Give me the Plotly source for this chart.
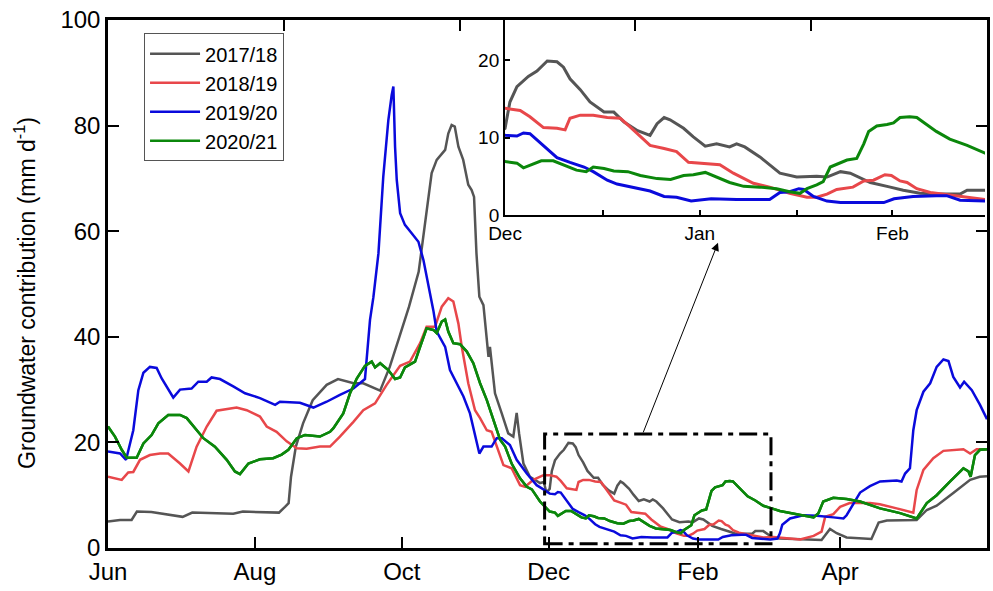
import plotly.graph_objects as go

FONT = "Liberation Sans, Arial, sans-serif"

series_names = ["2017/18", "2018/19", "2019/20", "2020/21"]
series_colors = ["#555555", "#E8474A", "#0A0ADC", "#0B870B"]

# x = days since 1 June
days_1718 = [0, 3, 5, 9.8, 12, 18, 24, 31, 35, 45, 52, 56, 65, 71, 73.5, 75, 76, 78, 81, 85,
             90.8, 95.5, 102, 106, 113, 117, 121, 125, 129, 132.3, 134.4, 136.5, 140, 141.3, 142.7, 144, 145.5, 147.5, 149.6, 151,
             152, 153, 154.2, 155.9, 157.3, 158, 158.6, 159.3, 160.7, 163.5, 166.2, 168.3, 169.7, 170.7, 172.5, 175.2, 179.4, 181, 182,
             183.4, 184.3, 185.6, 187.7, 189.3, 191.2, 193.0, 194.2, 195.4, 197.3, 199.1, 201.7, 203.5, 205.4, 207.9, 210.2, 211.5, 212.8, 213.9, 216.4,
             218.2, 220.4, 222.5, 224.9, 226.2, 227.7, 230.5, 234.2, 237.3, 241.0, 242.9, 245.4, 247.2, 250.9, 254.6, 257.0, 260.1, 263.2, 267.5, 268.8, 272.1,
             275.6, 279, 296.3, 299.8, 302.6, 306.7, 317, 320, 323.4, 335.8, 340, 344.1, 351, 358, 362, 365]
gw_1718 = [5.0, 5.2, 5.3, 5.3, 6.9, 6.8, 6.4, 5.9, 6.7, 6.6, 6.5, 6.9, 6.8, 6.7, 7.8, 8.5, 13.5, 19.2, 23.6, 28.0,
           30.9, 32.0, 31.2, 31.2, 29.8, 34.3, 40.0, 45.7, 52.3, 63.4, 71.0, 73.5, 75.4, 78.5, 80.1, 79.8, 76.0, 73.5, 68.8, 67.8,
           66.5, 55.8, 47.6, 46.0, 38.8, 36.2, 38.1, 35.3, 29.3, 25.5, 21.7, 21.1, 25.6, 21.7, 16.0, 13.5, 12.3, 12.5, 10.5,
           11.2, 14.6, 16.6, 17.9, 18.6, 19.9, 19.8, 19.1, 17.6, 16.2, 14.6, 13.3, 13.3, 12.0, 10.9, 10.3, 11.8, 12.6, 12.3, 11.2,
           10.1, 8.9, 9.2, 8.8, 9.2, 8.8, 7.5, 5.4, 4.9, 5.0, 4.9, 5.6, 5.4, 4.2, 3.6, 3.2, 2.8, 2.7, 2.7, 3.2, 3.2,
           2.1, 1.8, 1.5, 3.6, 2.8, 2.0, 1.7, 4.8, 5.2, 5.3, 7.2, 8.0, 10.4, 12.9, 13.5, 13.6]

days_1819 = [0, 5.7, 8.4, 10.5, 13.3, 17.4, 21.6, 25, 29.9, 33.4, 36.8, 41, 45.1, 49.3, 53.4, 57.6, 63.1, 65.9, 70, 74.2,
             78.4, 82.5, 88, 92.2, 96.3, 101.9, 106, 110.9, 115.7, 121.3, 125.4, 129.6, 132.3, 135.8, 138.6, 141.3, 143.4, 145.5, 146.9, 149.6,
             152.4, 154.5, 157.3, 159.3, 161.4, 164.2, 167.6, 171.1, 173.2, 176.6, 180.8,
             183.4, 186.2, 188.0, 190.5, 193.0, 194.5, 195.4, 197.3, 199.7, 202.3, 204.7, 206.5, 208.4, 210.2, 212.8, 215.1, 217.3, 220.1, 223.1, 225.6,
             229.3, 232.3, 236.0, 239.2, 241.0, 242.9, 244.7, 247.7, 249.7, 251.5, 253.6, 254.8, 256.4, 257.7, 259.5, 262.0, 265.7, 269.4, 272.1,
             276.3, 279, 287.4, 293, 296.3, 297.8, 301.2, 304, 308, 316.4, 320.5, 327.5, 334.4, 335.8, 338.6, 342.7, 346.9, 355.2, 358, 360.7, 365]
gw_1819 = [13.5, 12.9, 14.3, 14.4, 16.7, 17.6, 17.9, 17.9, 16.0, 14.5, 19.2, 23.0, 26.0, 26.3, 26.6, 26.1, 24.9, 23.0, 22.0, 20.2,
           18.9, 18.8, 19.2, 19.2, 21.1, 23.9, 26.1, 27.4, 30.9, 34.5, 35.3, 38.8, 41.9, 41.9, 45.7, 47.3, 46.7, 42.5, 38.1, 31.2,
           26.1, 24.6, 22.3, 22.0, 19.2, 15.7, 15.1, 11.9, 11.6, 12.9, 13.8,
           13.8, 13.5, 12.7, 11.3, 11.2, 11.0, 12.5, 12.9, 12.9, 12.6, 12.5, 11.4, 10.1, 9.0, 8.6, 8.2, 6.8, 6.7, 6.5, 5.4,
           4.1, 3.6, 2.8, 2.3, 2.3, 2.7, 3.3, 3.6, 4.4, 4.5, 5.2, 5.1, 4.4, 4.2, 3.4, 2.9, 2.6, 2.3, 2.0,
           2.1, 2.0, 1.6, 2.3, 3.1, 5.9, 6.4, 7.8, 8.5, 8.5, 8.3, 7.5, 6.7, 11.0, 14.8, 17.0, 18.4, 18.7, 17.9, 18.7, 18.7]

days_1920 = [0, 5, 7.5, 9.1, 10.5, 12.6, 14.7, 17.4, 20.2, 22.3, 25, 27.1, 29.9, 34.7, 37.5, 41, 43, 46.5, 52, 56.9,
             63.1, 69.4, 71.4, 79.7, 85.3, 90.8, 96.3, 101.9, 106.7, 107.4, 108.8, 110.2, 112.3, 114.3, 116.4, 117.8, 118.5, 119.2, 119.9, 121.3,
             123.3, 126.1, 128.9, 131, 133, 135.1, 136.5, 140, 142, 144.8, 147.6, 150.3, 152.4, 154.2, 155.9, 159.3, 161.4, 163.5, 166.9, 169.7,
             173.9, 178, 182.2,
             183.4, 185.6, 186.8, 188.0, 189.9, 191.2, 193.0, 195.4, 198.0, 199.7, 202.3, 204.1, 207.1, 210.2, 212.8, 215.1, 217.8, 221.5, 226.2, 232.3,
             234.2, 236.0, 237.7, 238.6, 240.4, 242.9, 245.4, 253.4, 255.3, 258.8, 263.1, 265.0, 267.5, 272.1,
             275, 278, 279, 280, 283.2, 288.7, 294.3, 301.2, 305.4, 306.7, 310.2, 312.3, 316.4, 320.6, 327.5, 329.5, 331, 333, 334.4, 335.8,
             338.6, 341.4, 344.1, 346.9, 349, 351, 353.8, 355.5, 358.7, 362.1, 365]
gw_1920 = [18.3, 17.9, 16.7, 19.8, 22.3, 29.9, 33.2, 34.3, 34.1, 32.1, 30.2, 28.5, 30.0, 30.2, 31.5, 31.5, 32.3, 32.0, 30.6, 29.3,
           28.4, 27.1, 27.7, 27.5, 26.6, 27.7, 29.0, 30.2, 32.0, 36.2, 43.2, 47.5, 55.8, 70.3, 81.0, 85.8, 87.4, 76.0, 69.7, 63.4,
           61.2, 59.6, 58.0, 54.5, 50.1, 45.0, 41.0, 38.1, 33.7, 31.2, 28.7, 25.5, 21.1, 17.9, 19.2, 19.2, 20.8, 20.8, 19.5, 16.7,
           14.1, 11.9, 10.7,
           10.3, 10.2, 10.6, 10.5, 9.3, 8.6, 7.4, 6.8, 6.2, 5.6, 4.5, 4.0, 3.6, 3.1, 2.4, 2.3, 1.8, 2.1, 2.0, 2.0,
           2.9, 3.0, 3.4, 3.3, 2.4, 1.8, 1.6, 1.6, 2.1, 2.4, 2.5, 2.5, 1.9, 1.8,
           1.6, 1.8, 2.8, 4.4, 5.6, 6.2, 6.1, 5.8, 5.6, 6.2, 8.8, 10.5, 11.7, 12.6, 12.8, 12.6, 14.1, 15.1, 22.3, 26.1,
           29.6, 31.2, 34.3, 35.7, 35.4, 32.4, 30.4, 31.5, 29.9, 27.1, 24.4]

days_2021 = [0, 2.9, 5.7, 7.8, 11.9, 14.7, 18.1, 20.9, 25, 29.9, 32.7, 36.8, 39.6, 44.4, 49.3, 52.7, 54.8, 58.3, 63.1, 68.6,
             72.1, 74.9, 78.4, 81.8, 88, 92.2, 93.6, 97.7, 100.5, 103.3, 106.7, 109.5, 110.9, 113, 116.4, 119.2, 121.3, 123.3, 127.5, 129.6,
             132.3, 135.1, 136.5, 138.6, 140, 141.3, 143.4, 146.2, 149, 151.7, 154.5, 157.3, 160, 162.8, 164.9, 167.6, 171.1, 173.9, 176, 179.4,
             183.4, 185.6, 186.8, 188.0, 190.1, 192.3, 194.2, 196.6, 198.4, 199.7, 201.7, 203.5, 206.1, 208.4, 211.5, 214.0, 216.4, 218.2, 220.4, 222.5,
             224.9, 227.5, 230.5, 233.6, 236.0, 237.9, 239.2, 241.0, 242.2, 243.5, 245.3, 246.6, 248.4, 249.7, 250.6, 252.1, 254.0, 255.2, 256.4, 258.2,
             259.5, 261.2, 263.1, 265.6, 268.8, 272.1,
             275.6, 279, 286, 293, 295, 297, 301.2, 306.7, 312.3, 320.6, 328.9, 335.8, 340, 344.1, 349.7, 355.2, 357.3, 358.2, 360, 362.1, 365]
gw_2021 = [23.0, 21.1, 18.6, 17.1, 17.1, 19.8, 21.4, 23.6, 25.2, 25.2, 24.6, 22.3, 20.8, 19.2, 16.7, 14.5, 14.0, 16.0, 16.8, 17.0,
           17.7, 18.6, 20.8, 21.4, 21.1, 22.0, 22.7, 25.5, 29.3, 32.1, 34.5, 35.3, 34.2, 35.0, 33.7, 32.0, 32.3, 34.2, 35.3, 38.1,
           41.6, 41.3, 40.7, 42.9, 43.3, 41.0, 38.8, 38.6, 37.2, 35.0, 31.2, 28.0, 24.2, 20.5, 19.2, 16.0, 13.2, 11.6, 11.1, 8.8,
           6.9, 6.7, 6.1, 6.4, 7.0, 7.0, 6.5, 5.8, 5.6, 6.2, 6.0, 5.7, 5.6, 5.1, 4.7, 4.6, 5.1, 5.2, 5.5, 4.9,
           4.2, 3.7, 3.6, 3.4, 3.0, 2.8, 3.4, 3.9, 4.3, 6.2, 6.7, 7.1, 7.3, 9.2, 10.8, 11.5, 11.7, 11.9, 12.6, 12.7,
           12.6, 11.8, 10.8, 9.8, 9.0, 8.0,
           7.5, 7.0, 6.4, 5.8, 6.6, 8.8, 9.5, 9.3, 8.8, 7.5, 6.6, 5.6, 8.5, 10.0, 12.6, 15.1, 14.5, 13.5, 17.6, 18.6, 18.7]

all_days = [days_1718, days_1819, days_1920, days_2021]
all_gw = [gw_1718, gw_1819, gw_1920, gw_2021]
for d, g in zip(all_days, all_gw):
    assert len(d) == len(g), (len(d), len(g))

month_ticks = [0, 61, 122, 183, 245, 304]
month_labels = ["Jun", "Aug", "Oct", "Dec", "Feb", "Apr"]
top_ticks = [73, 146, 219, 292]
y_ticks = [0, 20, 40, 60, 80, 100]
y_title = "Groundwater contribution (mm d<sup>-1</sup>)"

inset_ticks = [183.4, 201.5, 219.4, 237.4, 255.0]
inset_labels = ["Dec", "", "Jan", "", "Feb"]
inset_range = [183.4, 272.1]
inset_yticks = [0, 10, 20]

zoom_box = dict(x0=181.3, x1=275.3, y0=0.8, y1=21.6)
arrow_tail = (222, 21.6)
arrow_head = (253.3, 57.8)

fig = go.Figure()
for name, col, d, g in zip(series_names, series_colors, all_days, all_gw):
    fig.add_trace(go.Scatter(x=d, y=g, mode="lines", name=name,
                             line=dict(color=col, width=2.5), xaxis="x", yaxis="y"))
# last series repeated on the overlaid top axis so that its ticks get drawn
fig.add_trace(go.Scatter(x=days_2021, y=gw_2021, mode="lines", name=series_names[3], showlegend=False,
                         hoverinfo="skip", line=dict(color=series_colors[3], width=2.5),
                         xaxis="x3", yaxis="y"))
for name, col, d, g in zip(series_names, series_colors, all_days, all_gw):
    fig.add_trace(go.Scatter(x=d, y=g, mode="lines", name=name, showlegend=False,
                             line=dict(color=col, width=3), xaxis="x2", yaxis="y2"))

fig.add_shape(type="rect", xref="x", yref="y", **zoom_box,
              line=dict(color="black", width=3, dash="18px,6px,5px,6px"))
fig.add_annotation(x=arrow_head[0], y=arrow_head[1], ax=arrow_tail[0], ay=arrow_tail[1],
                   xref="x", yref="y", axref="x", ayref="y", text="", showarrow=True,
                   arrowhead=2, arrowsize=1.6, arrowwidth=1, arrowcolor="black")
fig.add_annotation(text=y_title, xref="paper", yref="paper", x=-0.0944, y=0.483,
                   xanchor="center", yanchor="middle", textangle=-90, showarrow=False,
                   font=dict(family=FONT, size=23, color="black"))

axis_common = dict(showgrid=False, zeroline=False, linecolor="black", ticks="inside",
                   tickcolor="black", tickfont=dict(family=FONT, size=24, color="black"))

fig.update_layout(
    width=993, height=591,
    margin=dict(l=108, r=6, t=20, b=43, autoexpand=False),
    paper_bgcolor="white", plot_bgcolor="rgba(0,0,0,0)",
    font=dict(family=FONT, color="black"),
    xaxis=dict(**axis_common, range=[0, 365], tickvals=month_ticks, ticktext=month_labels,
               linewidth=2.5, ticklen=11, tickwidth=2, mirror=True, showline=True,
               domain=[0, 1], anchor="y"),
    yaxis=dict(**axis_common, range=[0, 100], tickvals=y_ticks,
               linewidth=2.5, ticklen=11, tickwidth=2, mirror="ticks", showline=True,
               domain=[0, 1], anchor="x"),
    xaxis3=dict(overlaying="x", side="top", anchor="y", range=[0, 365], tickvals=top_ticks,
                ticks="inside", ticklen=11, tickwidth=2, tickcolor="black",
                showticklabels=False, showgrid=False, zeroline=False, showline=False),
    xaxis2=dict(showgrid=False, zeroline=False, linecolor="black", showline=True, linewidth=2,
                ticks="inside", ticklen=5, tickwidth=1.5, tickcolor="black",
                tickfont=dict(family=FONT, size=19, color="black"),
                range=inset_range, tickvals=inset_ticks, ticktext=inset_labels,
                domain=[0.4517, 0.9977], anchor="y2"),
    yaxis2=dict(showgrid=False, zeroline=False, linecolor="black", showline=True, linewidth=2,
                ticks="inside", ticklen=5, tickwidth=1.5, tickcolor="black",
                tickfont=dict(family=FONT, size=19, color="black"),
                range=[0, 25.2], tickvals=inset_yticks,
                domain=[0.6307, 1.0], anchor="x2"),
    legend=dict(x=0.041, y=0.975, xanchor="left", yanchor="top",
                bgcolor="white", bordercolor="#555555", borderwidth=1,
                font=dict(family=FONT, size=20, color="black"),
                itemwidth=50, tracegroupgap=0),
    showlegend=True,
)

fig.write_html("out.html", config={"displayModeBar": False},
               post_script="document.body.style.margin='0px';")
